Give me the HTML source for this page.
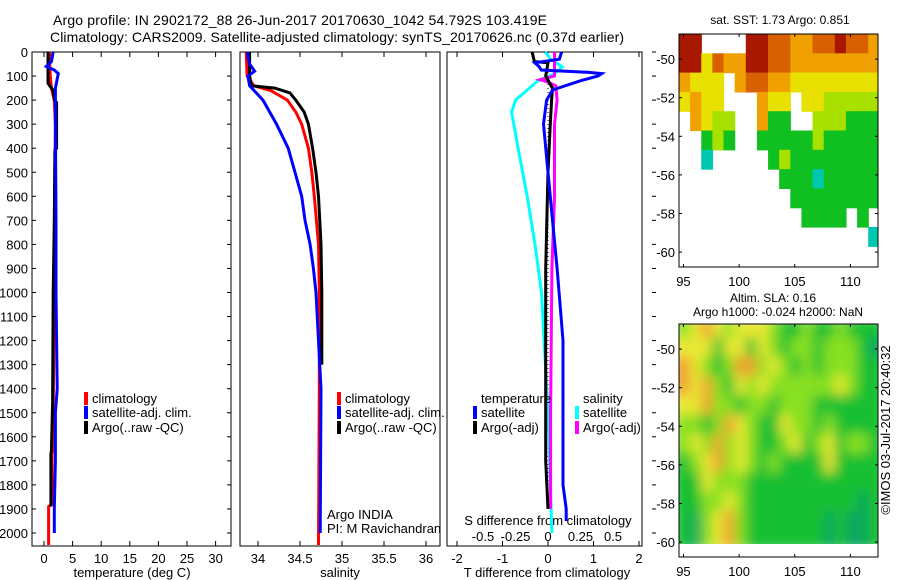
<!DOCTYPE html>
<html><head><meta charset="utf-8"><style>
html,body{margin:0;padding:0;background:#fff}
svg{display:block;font-family:"Liberation Sans",sans-serif}
</style></head><body>
<svg id="c" width="900" height="580" viewBox="0 0 900 580" xmlns="http://www.w3.org/2000/svg">
<defs>
<filter id="blur" x="-5%" y="-5%" width="110%" height="110%"><feGaussianBlur stdDeviation="6"/></filter>
<clipPath id="clipTop"><rect x="679" y="34" width="199" height="233"/></clipPath>
<clipPath id="clipBot"><rect x="679" y="324" width="199" height="220"/></clipPath>
</defs>
<text x="53" y="25" font-size="14" textLength="494">Argo profile: IN 2902172_88 26-Jun-2017 20170630_1042 54.792S 103.419E</text>
<text x="50" y="42" font-size="14" textLength="574">Climatology: CARS2009. Satellite-adjusted climatology: synTS_20170626.nc (0.37d earlier)</text>
<g id="g"></g>
</svg>
<script>
// ---- data ----
const depthTicks=[0,100,200,300,400,500,600,700,800,900,1000,1100,1200,1300,1400,1500,1600,1700,1800,1900,2000];
const tempTicks=[0,5,10,15,20,25,30];
const salTicks=[34,34.5,35,35.5,36];
const tdiffTicks=[-2,-1,0,1,2];
const sdiffTicks=[-0.5,-0.25,0,0.25,0.5];
const sdiffLabels=["-0.5","-0.25","0","0.25","0.5"];

const tClimDepth=[0,50,100,150,200,300,500,1000,1500,1660,1670,1880,1890,2050];
const tClim=[1.0,1.0,1.1,1.3,1.8,2.0,1.9,1.8,1.6,1.5,1.4,1.4,0.8,0.8];
const tArgoDepth=[0,130,140,160,200,210,400,410,700,1000,1460,1660,1670,1890];
const tArgo=[0.7,0.7,1.0,1.6,1.8,2.2,2.2,1.9,1.8,1.6,1.5,1.3,1.2,1.2];
const tSatDepth=[0,40,60,75,90,150,300,700,1000,1400,1500,1700,1900,2000];
const tSat=[1.6,1.3,0.4,1.8,2.5,2.0,2.0,2.1,2.1,2.3,2.0,2.0,1.8,1.8];

const sClimDepth=[0,100,140,160,200,250,300,400,500,600,800,1000,1400,2050];
const sClim=[33.86,33.87,33.95,34.15,34.35,34.45,34.52,34.6,34.64,34.67,34.72,34.73,34.73,34.72];
const sArgoDepth=[0,100,140,150,170,200,250,300,400,500,600,800,1000,1300];
const sArgo=[33.9,33.9,33.92,34.2,34.38,34.45,34.55,34.6,34.65,34.69,34.72,34.75,34.76,34.76];
const sSatDepth=[0,50,80,100,140,200,300,400,500,600,700,800,900,1000,1200,1400,2000];
const sSat=[33.87,33.9,33.96,33.88,33.9,34.06,34.22,34.36,34.44,34.52,34.56,34.62,34.66,34.69,34.72,34.75,34.74];

const dTSatDepth=[0,30,45,60,75,85,90,100,120,158,200,300,500,700,900,1200,1800,1900,1950];
const dTSat=[0.3,0.25,-0.29,-0.2,-0.15,0.9,1.18,1.1,0.7,0.1,-0.03,-0.1,0.0,0.1,0.2,0.33,0.33,0.4,0.4];
const dTArgoDepth=[0,40,45,100,150,200,300,500,900,1300,1700,1900];
const dTArgo=[-0.35,-0.3,0.0,-0.05,0.1,0.08,0.05,0.0,-0.05,-0.05,-0.05,0.0];
const dSSatDepth=[0,30,62,90,120,158,200,250,400,600,800,1000,1500,2000];
const dSSat=[-0.02,0.02,0.11,0.05,-0.08,-0.16,-0.25,-0.28,-0.23,-0.16,-0.1,-0.05,0.0,0.03];
const dSArgoDepth=[0,100,115,125,140,200,300,600,900,1500,1900];
const dSArgo=[0.05,0.05,-0.06,0.0,0.06,0.07,0.05,0.05,0.03,0.02,0.02];

const sstGrid=[
[6,6,-1,-1,-1,-1,6,6,5,5,4,4,5,5,6,5,5,4],
[6,6,3,5,4,4,6,6,5,5,4,4,4,4,4,4,4,4],
[4,3,3,3,-1,4,5,5,4,4,3,3,3,3,3,3,3,3],
[3,4,3,3,-1,-1,-1,4,3,3,-1,3,3,2,2,2,2,2],
[-1,4,3,2,2,-1,-1,4,1,1,-1,-1,2,2,2,1,1,1],
[-1,-1,1,2,1,-1,-1,1,1,1,1,1,2,1,1,1,1,1],
[-1,-1,0,-1,-1,-1,-1,-1,1,2,1,1,1,1,1,1,1,1],
[-1,-1,-1,-1,-1,-1,-1,-1,-1,1,1,1,0,1,1,1,1,1],
[-1,-1,-1,-1,-1,-1,-1,-1,-1,-1,1,1,1,1,1,1,1,1],
[-1,-1,-1,-1,-1,-1,-1,-1,-1,-1,-1,1,1,1,1,-1,1,-1],
[-1,-1,-1,-1,-1,-1,-1,-1,-1,-1,-1,-1,-1,-1,-1,-1,-1,0],
[-1,-1,-1,-1,-1,-1,-1,-1,-1,-1,-1,-1,-1,-1,-1,-1,-1,-1]];
const slaGrid=[
[2,3,4,3,2,3,3,3,2,1,1,2,1,1,2,1,1,1],
[3,3,3,1,3,3,1,3,2,1,2,2,1,2,2,2,1,0],
[4,3,2,1,2,4,4,2,3,2,1,2,1,2,2,2,1,1],
[4,3,4,2,1,3,2,3,2,2,2,2,2,2,3,2,1,1],
[3,3,4,2,2,1,2,2,1,2,2,2,1,1,1,1,1,1],
[2,2,1,2,4,3,2,1,1,3,2,2,1,2,1,1,1,1],
[2,3,2,4,2,3,2,1,1,2,3,1,2,3,1,2,2,1],
[1,2,3,4,2,3,2,1,2,1,1,1,1,3,1,1,1,1],
[1,1,3,2,2,2,1,1,1,1,1,1,1,1,1,1,1,1],
[1,1,2,2,3,2,1,1,1,1,1,1,1,1,1,1,0,1],
[1,0,2,3,4,2,1,1,1,1,1,1,1,0,1,0,0,1],
[1,0,2,3,4,2,1,1,1,1,1,1,1,0,1,0,0,1]];
const sstColors=["#00c8b0","#10c020","#a8e000","#e8e000","#f0a000","#d86000","#a81800"];
const slaColors=["#10a860","#18c030","#88e020","#e8e830","#f0a030"];
const mapLonTicks=[95,100,105,110];
const mapLatTicks=[-50,-52,-54,-56,-58,-60];

// ---- helpers ----
const NS="http://www.w3.org/2000/svg";
const G=document.getElementById('g');
function mk(tag,attrs,name,inter){const e=document.createElementNS(NS,tag);for(const k in attrs)e.setAttribute(k,attrs[k]);


G.appendChild(e);return e;}
function txt(x,y,s,name,anchor,size){const t=mk('text',{x:x,y:y,'font-size':size||13,'text-anchor':anchor||'start'},name,false);t.textContent=s;return t;}
const Y0=52,PY=0.2405,YB=546;
const yD=d=>Y0+d*PY;
const xT=v=>44+v*5.72;
const xS=v=>258+(v-34)*84;
const xDT=v=>548+v*45.5;
const xDS=v=>548+v*130;
function line(xf,xs,ds,color,name,w){const pts=xs.map((v,i)=>xf(v).toFixed(1)+','+yD(ds[i]).toFixed(1)).join(' ');
return mk('polyline',{points:pts,fill:'none',stroke:color,'stroke-width':w||3,'stroke-linejoin':'miter'},name,false);}

// panels
const panels=[[32,231],[240,440],[447,642]];
panels.forEach((p,i)=>mk('rect',{x:p[0],y:Y0,width:p[1]-p[0],height:YB-Y0,fill:'none',stroke:'#000','stroke-width':1},'panel-frame-'+(i+1),false));
depthTicks.forEach(d=>{
 txt(28,yD(d)+5,String(d),'depth-tick-label','end',13);
 mk('line',{x1:32,y1:yD(d),x2:36,y2:yD(d),stroke:'#000'},'depth-tick',false);
 mk('line',{x1:227,y1:yD(d),x2:231,y2:yD(d),stroke:'#000'},'depth-tick',false);
 mk('line',{x1:652,y1:yD(d),x2:656,y2:yD(d),stroke:'#000'},'depth-tick-right',false);
});
function xticks(vals,xf,labels,name,ylab){vals.forEach((v,i)=>{const x=xf(v);
 mk('line',{x1:x,y1:Y0,x2:x,y2:Y0+5,stroke:'#000'},name+'-tick-top',false);
 mk('line',{x1:x,y1:YB,x2:x,y2:YB-5,stroke:'#000'},name+'-tick-bottom',false);
 txt(x,ylab,labels?labels[i]:String(v),name+'-tick-label','middle',13);});}
xticks(tempTicks,xT,null,'temperature',563);
xticks(salTicks,xS,null,'salinity',563);
xticks(tdiffTicks,xDT,null,'tdiff',563);
sdiffTicks.forEach((v,i)=>txt(xDS(v),541,sdiffLabels[i],'sdiff-tick-label','middle',13));
txt(132,577,'temperature (deg C)','temperature-axis-title','middle',13);
txt(340,577,'salinity','salinity-axis-title','middle',13);
txt(547,577,'T difference from climatology','tdiff-axis-title','middle',13);
txt(548,525,'S difference from climatology','sdiff-axis-title','middle',13);

line(xT,tClim,tClimDepth,'#ff0000','temp-climatology-line');
line(xT,tArgo,tArgoDepth,'#000000','temp-argo-line');
line(xT,tSat,tSatDepth,'#0000ff','temp-satellite-line');
line(xS,sClim,sClimDepth,'#ff0000','sal-climatology-line');
line(xS,sArgo,sArgoDepth,'#000000','sal-argo-line');
line(xS,sSat,sSatDepth,'#0000ff','sal-satellite-line');
mk('line',{x1:548,y1:yD(0),x2:548,y2:yD(1900),stroke:'#000','stroke-dasharray':'1,3'},'zero-line',false);
line(xDS,dSSat,dSSatDepth,'#00ffff','sdiff-satellite-line');
line(xDS,dSArgo,dSArgoDepth,'#ff00ff','sdiff-argo-line');
line(xDT,dTArgo,dTArgoDepth,'#000000','tdiff-argo-line');
line(xDT,dTSat,dTSatDepth,'#0000ff','tdiff-satellite-line');

function leg(x,y,c,s,name){mk('rect',{x:x,y:y-11,width:4,height:13,fill:c},name+'-swatch',false);txt(x+8,y,s,name,'start',13);}
leg(84,403,'#ff0000','climatology','legend-climatology');
leg(84,417,'#0000ff','satellite-adj. clim.','legend-satellite');
leg(84,432,'#000','Argo(..raw -QC)','legend-argo');
leg(337,403,'#ff0000','climatology','legend2-climatology');
leg(337,417,'#0000ff','satellite-adj. clim.','legend2-satellite');
leg(337,432,'#000','Argo(..raw -QC)','legend2-argo');
txt(481,403,'temperature','legend-temperature-header','start',13);
txt(583,403,'salinity','legend-salinity-header','start',13);
leg(473,417,'#0000ff','satellite','legend-t-satellite');
leg(473,432,'#000','Argo(-adj)','legend-t-argo');
leg(575,417,'#00ffff','satellite','legend-s-satellite');
leg(575,432,'#ff00ff','Argo(-adj)','legend-s-argo');
txt(327,519,'Argo INDIA','argo-program-label','start',13);
txt(327,533,'PI: M Ravichandran','pi-label','start',13);

const MX=679,MW=199,lonX=l=>MX+(l-94.6)*11.13;
function drawMap(grid,cols,top,latTop,clip,blur,name){
 const latY=la=>top+(latTop-la)*19.3;
 const outer=document.createElementNS(NS,'g');outer.setAttribute('clip-path','url(#'+clip+')');
 
 
 G.appendChild(outer);
 const grp=document.createElementNS(NS,'g');
 if(blur)grp.setAttribute('filter','url(#blur)');
 
 
 outer.appendChild(grp);
 grid.forEach((row,i)=>row.forEach((v,j)=>{if(v<0)return;
  const r=document.createElementNS(NS,'rect');
  const pad=blur?6:0;
  const x=lonX(94.6+j)-(j==0?pad:0),y=latY(latTop-i);
  r.setAttribute('x',x);r.setAttribute('y',y);
  r.setAttribute('width',11.13+0.6+(j==0?pad:0)+(j==row.length-1?pad:0));r.setAttribute('height',19.3+0.6);
  r.setAttribute('fill',cols[v]);
  
  
  grp.appendChild(r);}));
 return latY;
}
const latTop1=drawMap(sstGrid,sstColors,34,-48.7,'clipTop',false,'sst-map');
const latBot=drawMap(slaGrid,slaColors,318,-48.4,'clipBot',true,'sla-map');
mk('rect',{x:679,y:544,width:199,height:13,fill:'#fff'},'sla-map-nodata',false);
function frame(top,h,latY,name){
 mk('rect',{x:MX,y:top,width:MW,height:h,fill:'none',stroke:'#000'},name+'-frame',false);
 mapLatTicks.forEach(la=>{const y=latY(la);txt(675,y+5,String(la),name+'-lat-label','end',13);
  mk('line',{x1:MX,y1:y,x2:MX+3,y2:y,stroke:'#000'},name+'-lat-tick',false);
  mk('line',{x1:MX+MW,y1:y,x2:MX+MW-3,y2:y,stroke:'#000'},name+'-lat-tick',false);});
 mapLonTicks.forEach(lo=>{const x=lonX(lo);
  mk('line',{x1:x,y1:top,x2:x,y2:top+3,stroke:'#000'},name+'-lon-tick',false);
  mk('line',{x1:x,y1:top+h,x2:x,y2:top+h-3,stroke:'#000'},name+'-lon-tick',false);
  txt(x,top+h+19,String(lo),name+'-lon-label','middle',13);});
}
frame(34,233,latTop1,'sst-map');
const latBotFrame=la=>324+(-48.7-la)*19.3;
frame(324,233,latBotFrame,'sla-map');
txt(780,24,'sat. SST: 1.73 Argo: 0.851','sst-map-title','middle',12);
txt(773,302,'Altim. SLA: 0.16','sla-map-title','middle',12);
txt(778,316,'Argo h1000: -0.024 h2000: NaN','sla-map-subtitle','middle',12);
const cr=txt(0,0,'©IMOS 03-Jul-2017 20:40:32','imos-credit','middle',13);
cr.setAttribute('transform','translate(890,430) rotate(-90)');
</script>
</body></html>
